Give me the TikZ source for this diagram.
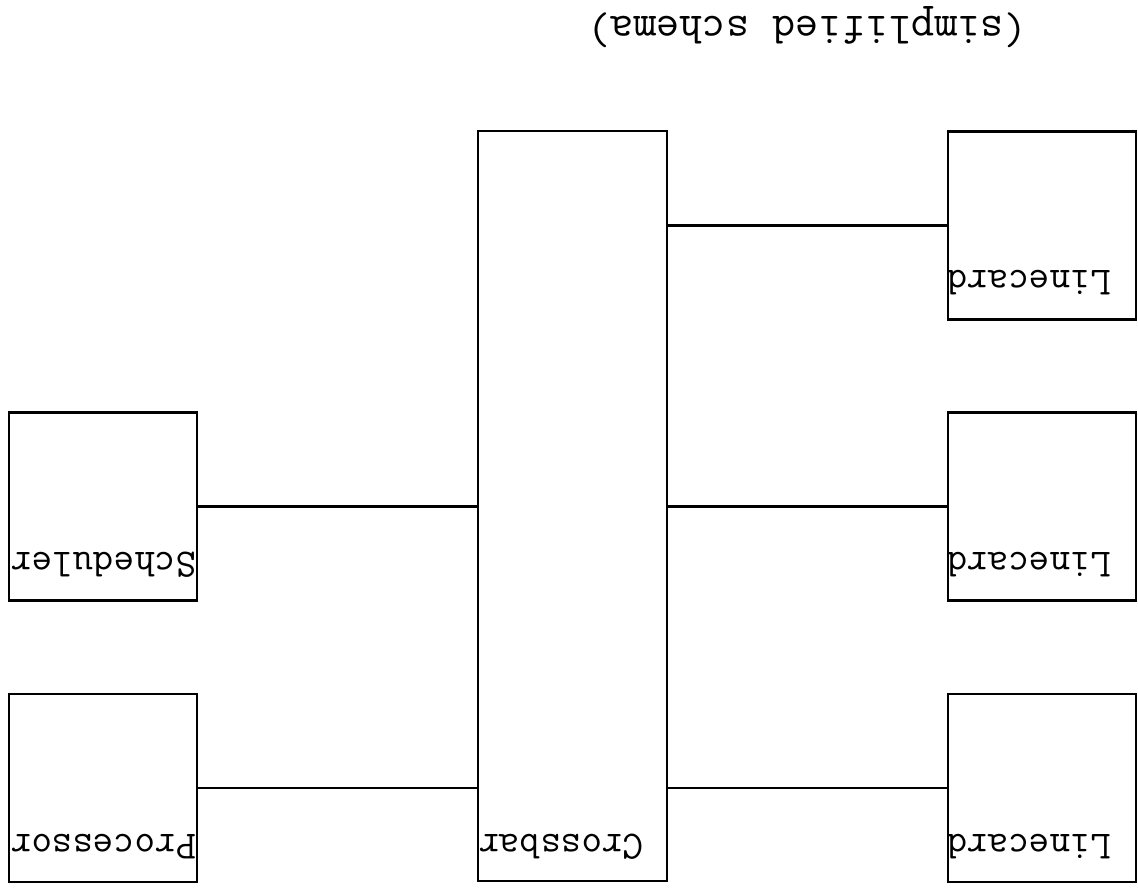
\documentclass[tikz,border=0pt]{standalone}
\usepackage{fontspec}
\begin{document}
\begin{tikzpicture}[x=1bp,y=-1bp,
  box/.style={draw,line width=2.8bp,inner sep=0pt,outer sep=0pt,minimum width=188bp,minimum height=188bp},
  lbl/.style={font=\ttfamily\fontsize{40bp}{46bp}\selectfont,rotate=180,anchor=base,inner sep=0pt},
  conn/.style={line width=2.8bp}]
\useasboundingbox (0,0) rectangle (1138,888);
\node[box,minimum width=189bp,minimum height=750bp] (xbar) at (572.5,506) {};
\node[box] (lc1) at (1042,225.5) {};
\node[box] (lc2) at (1042,506.5) {};
\node[box] (lc3) at (1042,788) {};
\node[box] (sched) at (103,506.5) {};
\node[box] (proc) at (103,788) {};
\node[lbl] (tcross) at (561,834) {Crossbar};
\node[lbl] (tlc1) at (1029,270) {Linecard};
\node[lbl] (tlc2) at (1029,552) {Linecard};
\node[lbl] (tlc3) at (1029,834) {Linecard};
\node[lbl] (tsched) at (103.5,552) {Scheduler};
\node[lbl] (tproc) at (103.5,834) {Processor};
\node[lbl,font=\ttfamily\fontsize{45bp}{50bp}\selectfont] (title) at (807,16) {(simplified schema)};
\draw[conn] (lc1.west) -- (lc1.west -| xbar.east);
\draw[conn] (lc2.west) -- (lc2.west -| xbar.east);
\draw[conn] (lc3.west) -- (lc3.west -| xbar.east);
\draw[conn] (sched.east) -- (sched.east -| xbar.west);
\draw[conn] (proc.east) -- (proc.east -| xbar.west);
\end{tikzpicture}
\end{document}
